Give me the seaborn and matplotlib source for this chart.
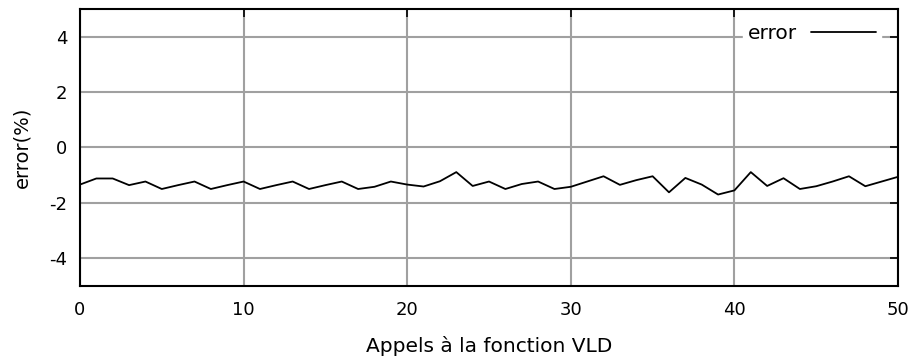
import numpy as np
import pandas as pd
import seaborn as sns
import matplotlib.pyplot as plt

# data
calls = list(range(51))
error = [-1.34, -1.12, -1.12, -1.36, -1.23, -1.50, -1.36, -1.23, -1.50, -1.36,
         -1.23, -1.50, -1.36, -1.23, -1.50, -1.36, -1.23, -1.50, -1.42, -1.23,
         -1.34, -1.41, -1.22, -0.89, -1.39, -1.23, -1.50, -1.32, -1.23, -1.50,
         -1.42, -1.23, -1.04, -1.35, -1.18, -1.04, -1.62, -1.10, -1.34, -1.70,
         -1.55, -0.89, -1.39, -1.11, -1.50, -1.40, -1.23, -1.04, -1.40, -1.23,
         -1.06]
xticks = [0, 10, 20, 30, 40, 50]
yticks = [-4, -2, 0, 2, 4]

df = pd.DataFrame({"calls": calls, "error": error})

sns.set_style("white")
plt.rcParams["font.family"] = ["DejaVu Sans"]
plt.rcParams["text.color"] = "black"

fig = plt.figure(figsize=(9.12, 3.61), dpi=100)
ax = fig.add_axes([0.0877, 0.208, 0.897, 0.767])

sns.lineplot(data=df, x="calls", y="error", color="black", linewidth=1.3,
             label="error", ax=ax)

ax.set_xlim(0, 50)
ax.set_ylim(-5, 5)
ax.set_xticks(xticks)
ax.set_yticks(yticks)
ax.set_xticklabels([str(t) for t in xticks], fontsize=13)
ax.set_yticklabels([str(t) for t in yticks], fontsize=13)
ax.grid(True, color="#a0a0a0", linewidth=1.5)
ax.set_axisbelow(True)
ax.tick_params(direction="in", length=6, width=1.2, top=True, right=True,
               colors="black", labelcolor="black")
ax.tick_params(axis="y", pad=9)
ax.tick_params(axis="x", pad=11)
for s in ax.spines.values():
    s.set_color("black")
    s.set_linewidth(1.5)

ax.set_xlabel("Appels à la fonction VLD", fontsize=14.5, labelpad=12, color="black")
ax.set_ylabel("error(%)", fontsize=14, labelpad=13, color="black")

leg = ax.legend(loc="center right", bbox_to_anchor=(0.979, 0.91), frameon=True,
                fontsize=14.5, markerfirst=False, handlelength=3.2,
                handletextpad=0.7, borderaxespad=0, borderpad=0.25,
                fancybox=False)
leg.get_frame().set_edgecolor("white")
leg.get_frame().set_facecolor("white")
leg.get_frame().set_alpha(1.0)
for t in leg.get_texts():
    t.set_color("black")

fig.savefig("out.png", dpi=100)
